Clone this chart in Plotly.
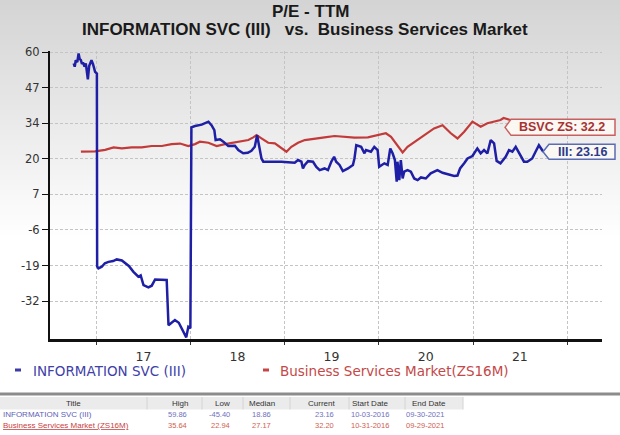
import numpy as np
import plotly.graph_objects as go

# ---------------- data ----------------
III_DATES = ["2016-10-03","2016-10-07","2016-10-11","2016-10-17","2016-10-22","2016-10-26","2016-10-31",
             "2016-11-04","2016-11-08","2016-11-14","2016-11-19","2016-11-23","2016-11-27","2016-12-02",
             "2016-12-07","2016-12-11","2016-12-17","2016-12-25","2017-01-01","2017-01-02","2017-01-07",
             "2017-01-20","2017-02-01","2017-02-15","2017-03-05","2017-03-19","2017-04-08","2017-04-21",
             "2017-05-05","2017-05-23","2017-06-11","2017-06-20","2017-07-01","2017-07-20","2017-08-02",
             "2017-08-15","2017-09-10","2017-09-29","2017-10-06","2017-10-31","2017-11-15","2017-11-29",
             "2017-12-07","2017-12-14","2017-12-22","2017-12-30","2018-01-03","2018-01-17","2018-02-12",
             "2018-03-10","2018-03-22","2018-04-02","2018-04-07","2018-04-24","2018-05-07","2018-05-26",
             "2018-06-21","2018-07-04","2018-07-23","2018-08-10","2018-08-24","2018-09-06","2018-09-15",
             "2018-09-25","2018-10-02","2018-10-09","2018-11-10","2018-12-18","2019-02-08","2019-02-21",
             "2019-03-06","2019-03-12","2019-03-19","2019-04-01","2019-04-20","2019-05-03","2019-05-16",
             "2019-06-04","2019-06-17","2019-06-30","2019-07-11","2019-07-19","2019-08-01","2019-08-14",
             "2019-09-03","2019-09-22","2019-09-28","2019-10-05","2019-10-24","2019-11-06","2019-11-12",
             "2019-12-01","2019-12-14","2019-12-27","2020-01-02","2020-01-22","2020-02-04","2020-02-14",
             "2020-02-23","2020-03-03","2020-03-10","2020-03-13","2020-03-20","2020-03-26","2020-04-02",
             "2020-04-08","2020-04-21","2020-05-04","2020-05-17","2020-05-30","2020-06-12","2020-07-01",
             "2020-07-20","2020-08-15","2020-09-04","2020-09-23","2020-10-19","2020-11-01","2020-11-11",
             "2020-11-27","2020-12-10","2020-12-29","2021-01-17","2021-01-30","2021-02-12","2021-02-25",
             "2021-03-10","2021-03-23","2021-04-02","2021-04-17","2021-05-07","2021-05-20","2021-06-02",
             "2021-06-15","2021-07-04","2021-07-17","2021-07-30","2021-08-18","2021-08-31","2021-09-13",
             "2021-09-30"]
III_PE = [55.8,54.6,57.0,56.3,59.5,57.5,57.0,
          55.6,56.2,54.6,55.8,52.8,49.9,54.8,
          56.5,57.0,55.5,52.7,52.1,-19.2,-19.9,
          -19.3,-18.0,-17.5,-17.2,-16.6,-17.0,-18.1,
          -19.0,-21.2,-23.0,-22.5,-26.1,-26.9,-26.3,
          -24.0,-24.2,-24.2,-40.9,-39.0,-40.0,-42.7,
          -44.5,-45.4,-41.5,-42.0,32.2,32.7,33.2,
          34.3,33.0,31.2,27.5,27.8,26.9,25.3,
          25.4,23.8,22.6,22.8,23.5,25.0,29.3,
          23.8,20.7,19.5,19.5,19.5,19.1,20.1,
          19.5,17.0,18.3,19.7,19.5,17.6,16.4,
          17.0,16.4,19.5,21.3,19.5,18.3,16.0,
          17.0,18.3,20.7,25.6,25.0,22.6,23.8,
          23.2,25.0,23.8,17.6,18.9,18.3,24.4,
          22.6,20.1,12.1,19.5,12.7,20.1,13.3,
          15.8,16.4,15.8,13.3,12.7,13.7,13.3,
          15.2,16.4,15.4,14.9,14.2,14.4,17.0,
          18.9,20.7,21.6,24.4,22.6,23.8,22.6,
          27.5,26.3,19.8,18.9,21.3,23.8,23.2,
          25.0,22.0,19.5,19.5,20.7,23.2,25.6,
          23.16]

BSVC_DATES = ["2016-10-31","2016-12-25","2017-02-02","2017-03-07","2017-04-08","2017-05-16","2017-06-24",
              "2017-08-02","2017-09-10","2017-10-18","2017-11-20","2017-12-22","2018-01-17","2018-02-05",
              "2018-03-10","2018-04-11","2018-05-13","2018-06-14","2018-07-17","2018-08-12","2018-08-31",
              "2018-09-13","2018-09-29","2018-10-28","2018-11-23","2018-12-18","2019-01-07","2019-01-26",
              "2019-02-21","2019-03-19","2019-04-26","2019-06-04","2019-07-13","2019-08-21","2019-09-28",
              "2019-11-19","2019-12-27","2020-01-28","2020-02-17","2020-03-13","2020-04-02","2020-04-21",
              "2020-05-30","2020-07-08","2020-08-02","2020-09-04","2020-10-06","2020-11-01","2020-11-27",
              "2020-12-29","2021-01-30","2021-02-25","2021-03-23","2021-04-17","2021-04-29","2021-06-10",
              "2021-07-20","2021-09-29"]
BSVC_PE = [23.2,23.3,23.9,24.8,24.4,24.8,24.8,
           25.3,25.3,26.0,26.2,25.3,26.0,26.9,
           26.5,25.3,26.0,26.5,26.9,27.5,28.5,
           29.3,28.3,26.5,26.3,24.4,23.2,25.0,
           26.5,27.5,28.1,28.5,29.0,28.7,28.4,
           28.5,29.3,30.0,28.7,25.6,22.94,25.0,
           27.5,30.0,31.8,33.0,30.0,28.1,30.6,
           34.3,32.4,33.7,34.3,34.9,35.64,34.6,
           33.4,32.2]

X_TICK_LABELS = ["17", "18", "19", "20", "21"]
Y_TICK_LABELS = ["60", "47", "34", "20", "7", "-6", "-19", "-32"]

III_NAME = "INFORMATION SVC (III)"
BSVC_NAME = "Business Services Market(ZS16M)"
III_TAG = "III: 23.16"
BSVC_TAG = "BSVC ZS: 32.2"
III_CURRENT = 23.16
BSVC_CURRENT = 32.2

TABLE_HEADERS = ["Title", "High", "Low", "Median", "Current", "Start Date", "End Date"]
TABLE_NAMES = ["INFORMATION SVC (III)", "Business Services Market (ZS16M)"]
TABLE_HIGH = ["59.86", "35.64"]
TABLE_LOW = ["-45.40", "22.94"]
TABLE_MEDIAN = ["18.86", "27.17"]
TABLE_CURRENT = ["23.16", "32.20"]
TABLE_START = ["10-03-2016", "10-31-2016"]
TABLE_END = ["09-30-2021", "09-29-2021"]

# ---------------- layout geometry (pixels) ----------------
W, H = 620, 435
L, R, T, B = 50, 18, 51, 96
PW, PH = W - L - R, H - T - B
Y_MIN, Y_MAX = -46.0, 60.4
PX_PER_UNIT = PH / (Y_MAX - Y_MIN)

def xp(px):
    return (px - L) / PW

def yp(py):
    return (H - B - py) / PH

BLUE = "#1f1fa6"
RED = "#c23a3a"

fig = go.Figure()
fig.add_trace(go.Scatter(x=BSVC_DATES, y=BSVC_PE, mode="lines",
                         line=dict(color=RED, width=2.2), name=BSVC_NAME, showlegend=False))
fig.add_trace(go.Scatter(x=III_DATES, y=III_PE, mode="lines",
                         line=dict(color=BLUE, width=2.5), name=III_NAME, showlegend=False))

shapes = []
# background gradient (top grey fading to white)
n_bands = 48
for i in range(n_bands):
    y0 = i * 5
    c = int(round(212 + (255 - 212) * i / (n_bands - 1)))
    shapes.append(dict(type="rect", xref="paper", yref="paper",
                       x0=xp(0), x1=xp(W), y0=yp(y0), y1=yp(y0 + 5.5),
                       fillcolor=f"rgb({c},{c},{c})", line=dict(width=0), layer="below"))

# label tags (pentagon boxes) on the right
def tag(y_val, tip_px, left_px, right_px, half_px, border):
    hh = half_px / PX_PER_UNIT
    path = (f"M {xp(tip_px)} {y_val} L {xp(left_px)} {y_val + hh} L {xp(right_px)} {y_val + hh} "
            f"L {xp(right_px)} {y_val - hh} L {xp(left_px)} {y_val - hh} Z")
    return dict(type="path", xref="paper", yref="y", path=path,
                fillcolor="#fbf7f2", line=dict(color=border, width=1.5), layer="above")

shapes.append(tag(BSVC_CURRENT, 505, 511, 615, 8, "#c86060"))
shapes.append(tag(III_CURRENT, 543, 549, 615, 7.5, "#5a6cb4"))

# legend dashes
shapes.append(dict(type="rect", xref="paper", yref="paper", x0=xp(15), x1=xp(21),
                   y0=yp(371.5), y1=yp(368.5), fillcolor="#3c3ca8", line=dict(width=0)))
shapes.append(dict(type="rect", xref="paper", yref="paper", x0=xp(263), x1=xp(269),
                   y0=yp(371.5), y1=yp(368.5), fillcolor="#c84545", line=dict(width=0)))

# table separator and header background
shapes.append(dict(type="rect", xref="paper", yref="paper", x0=xp(0), x1=xp(W),
                   y0=yp(395.5), y1=yp(392.5), fillcolor="#8c8c8c", line=dict(width=0)))
shapes.append(dict(type="rect", xref="paper", yref="paper", x0=xp(0), x1=xp(463),
                   y0=yp(409.5), y1=yp(397), fillcolor="#ebebeb", line=dict(width=0)))
for sx in [147, 202, 243, 290, 349, 405, 463]:
    shapes.append(dict(type="line", xref="paper", yref="paper", x0=xp(sx), x1=xp(sx),
                       y0=yp(409.5), y1=yp(397), line=dict(color="#d4d4d4", width=1)))

ann = []
TITLE_FONT = "Liberation Sans, Arial, sans-serif"
ann.append(dict(text="<b>P/E - TTM</b>", x=xp(310), y=yp(11), xref="paper", yref="paper",
                xanchor="center", yanchor="middle", showarrow=False,
                font=dict(family=TITLE_FONT, size=17, color="#1a1a1a")))
ann.append(dict(text="<b>INFORMATION SVC (III)\u00a0\u00a0 vs.\u00a0 Business Services Market</b>",
                x=xp(305), y=yp(30), xref="paper", yref="paper",
                xanchor="center", yanchor="middle", showarrow=False,
                font=dict(family=TITLE_FONT, size=17, color="#1a1a1a")))

# legend texts
ann.append(dict(text=III_NAME, x=xp(31), y=yp(371), xref="paper", yref="paper",
                xanchor="left", yanchor="middle", showarrow=False,
                font=dict(family="DejaVu Sans", size=13.5, color="#4040a8")))
ann.append(dict(text=BSVC_NAME, x=xp(278), y=yp(371), xref="paper", yref="paper",
                xanchor="left", yanchor="middle", showarrow=False,
                font=dict(family="DejaVu Sans", size=13.5, color="#c44848")))

# tags text
ann.append(dict(text=f"<b>{BSVC_TAG}</b>", x=xp(562), y=BSVC_CURRENT, xref="paper", yref="y",
                xanchor="center", yanchor="middle", showarrow=False,
                font=dict(family=TITLE_FONT, size=12.5, color="#a83232")))
ann.append(dict(text=f"<b>{III_TAG}</b>", x=xp(582), y=III_CURRENT, xref="paper", yref="y",
                xanchor="center", yanchor="middle", showarrow=False,
                font=dict(family=TITLE_FONT, size=12.5, color="#2b3a8c")))

# table
TF = "Liberation Sans, Arial, sans-serif"
header_x = [73, 180, 222, 262, 321, 370, 429]
for h, hx in zip(TABLE_HEADERS, header_x):
    ann.append(dict(text=h, x=xp(hx), y=yp(403.5), xref="paper", yref="paper",
                    xanchor="center", yanchor="middle", showarrow=False,
                    font=dict(family=TF, size=8, color="#333333")))
row_y = [414.5, 425.5]
row_col = ["#6060b8", "#c84040"]
val_col = ["#7070c0", "#d06050"]
for r in range(2):
    name = TABLE_NAMES[r] if r == 0 else f"<u>{TABLE_NAMES[r]}</u>"
    ann.append(dict(text=name, x=xp(1), y=yp(row_y[r]), xref="paper", yref="paper",
                    xanchor="left", yanchor="middle", showarrow=False,
                    font=dict(family=TF, size=8, color=row_col[r])))
    for vals, rx in [(TABLE_HIGH, 189), (TABLE_LOW, 232), (TABLE_MEDIAN, 273), (TABLE_CURRENT, 336)]:
        ann.append(dict(text=vals[r], x=xp(rx), y=yp(row_y[r]), xref="paper", yref="paper",
                        xanchor="right", yanchor="middle", showarrow=False,
                        font=dict(family=TF, size=7.5, color=val_col[r])))
    for vals, cx in [(TABLE_START, 370), (TABLE_END, 425)]:
        ann.append(dict(text=vals[r], x=xp(cx), y=yp(row_y[r]), xref="paper", yref="paper",
                        xanchor="center", yanchor="middle", showarrow=False,
                        font=dict(family=TF, size=7.5, color=val_col[r])))

x_tickvals = [f"20{lab}-07-01" for lab in X_TICK_LABELS]
y_tickvals = list(np.linspace(60, -32, len(Y_TICK_LABELS)))

fig.update_layout(
    width=W, height=H, autosize=False,
    margin=dict(l=L, r=R, t=T, b=B, pad=0),
    paper_bgcolor="white", plot_bgcolor="rgba(0,0,0,0)",
    font=dict(family="DejaVu Sans", color="#333333"),
    shapes=shapes, annotations=ann, showlegend=False,
    xaxis=dict(type="date", range=["2016-07-03", "2022-05-16"],
               tickmode="array", tickvals=x_tickvals, ticktext=X_TICK_LABELS,
               showgrid=False, zeroline=False, showline=True, linecolor="#111111", linewidth=2.5,
               ticks="", tickfont=dict(family="DejaVu Sans", size=12.5, color="#333333"),
               ticklabelstandoff=4,
               minor=dict(dtick="M12", tick0="2017-01-01", showgrid=True, gridcolor="#c4c4c4",
                          griddash="3px,2px", gridwidth=1, ticks="outside", ticklen=3,
                          tickcolor="#333333")),
    yaxis=dict(range=[Y_MIN, Y_MAX], tickmode="array", tickvals=y_tickvals, ticktext=Y_TICK_LABELS,
               showgrid=True, gridcolor="#c4c4c4", griddash="3px,2px", gridwidth=1,
               zeroline=False, showline=True, linecolor="#111111", linewidth=2,
               ticks="outside", ticklen=6, tickcolor="#111111",
               tickfont=dict(family="DejaVu Sans", size=11.5, color="#333333")),
)

# remove the default page margin so the 620x435 figure fills the window exactly
fig.write_html("out.html", config={"displayModeBar": False},
               post_script="document.body.style.margin='0px';document.body.style.padding='0px';")
